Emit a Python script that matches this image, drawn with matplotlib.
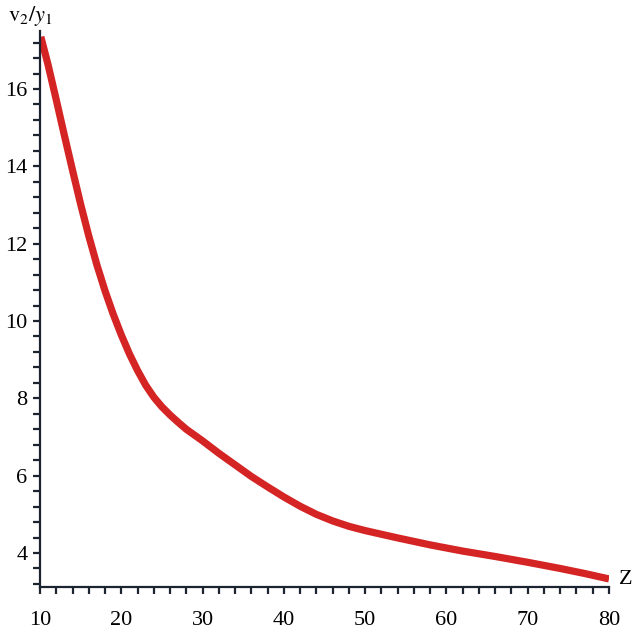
import matplotlib
matplotlib.use("Agg")
import matplotlib.pyplot as plt
from matplotlib.ticker import MultipleLocator

# Data
# __________________________

Z = [10.1, 11, 12, 13, 14, 15, 16, 17, 18, 19, 20, 21, 22, 23, 24, 25,
     26, 27, 28, 30, 32, 34, 36, 38, 40, 42, 44, 46, 48, 50, 54, 58, 62,
     66, 70, 74, 77, 80]
RATIO = [17.35, 16.62, 15.72, 14.8, 13.9, 13.02, 12.2, 11.45, 10.78, 10.18,
         9.64, 9.15, 8.72, 8.34, 8.03, 7.78, 7.57, 7.38, 7.2, 6.9, 6.58,
         6.28, 5.98, 5.71, 5.45, 5.21, 5.0, 4.83, 4.69, 4.58, 4.39, 4.21,
         4.05, 3.91, 3.76, 3.6, 3.47, 3.33]

X_TICKS = [10, 20, 30, 40, 50, 60, 70, 80]
Y_TICKS = [4, 6, 8, 10, 12, 14, 16]

plt.rcParams['font.family'] = ['Liberation Serif', 'DejaVu Serif']
plt.rcParams['mathtext.fontset'] = 'stix'

fig = plt.figure(figsize=(6.4, 6.31), dpi=100)
ax = fig.add_axes([40/640, 44/631, 569/640, 556/631])

ax.plot(Z, RATIO, color='#d42424', lw=5.2, solid_capstyle='butt',
        solid_joinstyle='round')

ax.set_xlim(10, 80)
ax.set_ylim(3.121, 17.5)

ax.set_xticks(X_TICKS)
ax.set_yticks(Y_TICKS)
ax.xaxis.set_minor_locator(MultipleLocator(2))
ax.yaxis.set_minor_locator(MultipleLocator(0.4))

axis_col = '#1c2430'
for s in ['top', 'right']:
    ax.spines[s].set_visible(False)
for s in ['left', 'bottom']:
    ax.spines[s].set_color(axis_col)
    ax.spines[s].set_linewidth(1.6)

ax.tick_params(axis='both', which='both', direction='out', length=5,
               width=1.6, color=axis_col, labelsize=16)
ax.tick_params(axis='x', which='major', pad=12)
ax.tick_params(axis='y', which='major', pad=4)

fig.text(8/640, 1 - 16/631, r'$\mathrm{v}_2/y_1$', fontsize=16,
         va='center', ha='left')
fig.text(619/640, 1 - 580/631, 'Z', fontsize=16, va='center', ha='left')

fig.savefig('out.png', dpi=100)
